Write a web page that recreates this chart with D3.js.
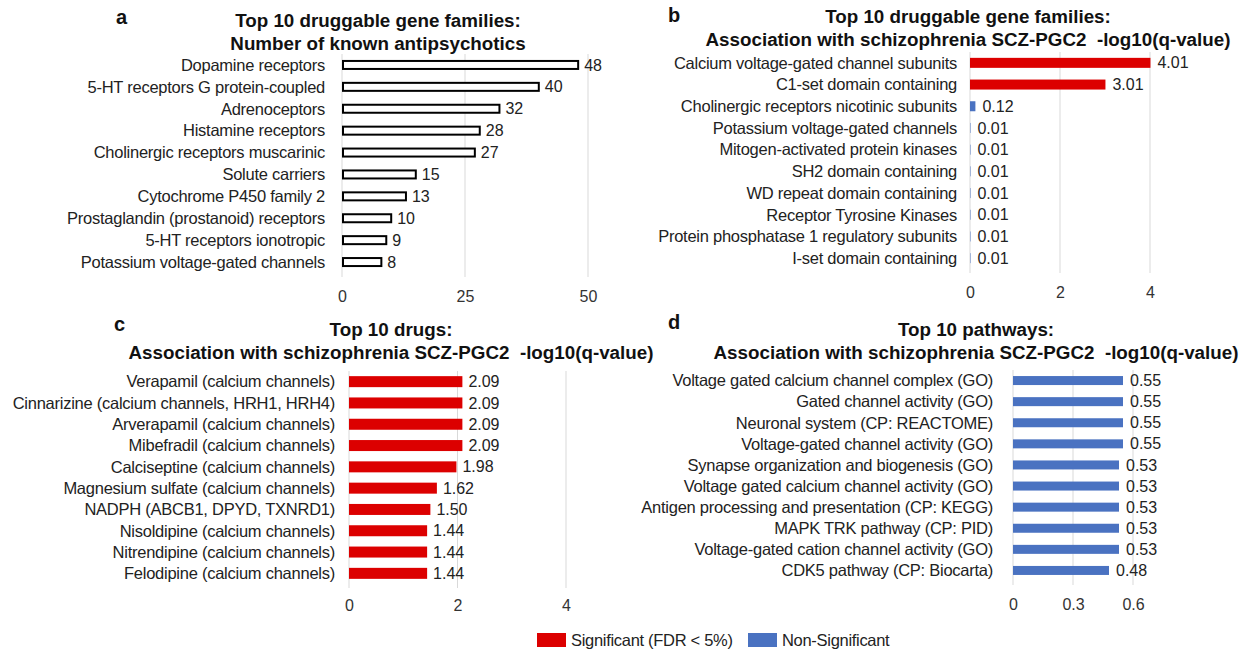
<!DOCTYPE html>
<html>
<head>
<meta charset="utf-8">
<script src="https://cdn.jsdelivr.net/npm/d3@7"></script>
<style>
  html, body { margin: 0; padding: 0; background: #fff; }
  svg { display: block; font-family: "Liberation Sans", Arial, sans-serif; }
  .title { white-space: pre; }
</style>
</head>
<body>
<svg id="chart"></svg>
<script>
const WIDTH = 1256;
const HEIGHT = 652;
const RED = "#dc0000";
const BLUE = "#4a72c1";

// panel a: number of known antipsychotics per gene family
const familyNames = [
  "Dopamine receptors", "5-HT receptors G protein-coupled", "Adrenoceptors",
  "Histamine receptors", "Cholinergic receptors muscarinic", "Solute carriers",
  "Cytochrome P450 family 2", "Prostaglandin (prostanoid) receptors",
  "5-HT receptors ionotropic", "Potassium voltage-gated channels"
];
const familyCounts = [48, 40, 32, 28, 27, 15, 13, 10, 9, 8];
const familyTicks = [0, 25, 50];

// panel b: gene families, association -log10(q)
const famAssocNames = [
  "Calcium voltage-gated channel subunits", "C1-set domain containing",
  "Cholinergic receptors nicotinic subunits", "Potassium voltage-gated channels",
  "Mitogen-activated protein kinases", "SH2 domain containing",
  "WD repeat domain containing", "Receptor Tyrosine Kinases",
  "Protein phosphatase 1 regulatory subunits", "I-set domain containing"
];
const famAssocValues = [4.01, 3.01, 0.12, 0.01, 0.01, 0.01, 0.01, 0.01, 0.01, 0.01];
const famAssocSignificant = [true, true, false, false, false, false, false, false, false, false];
const famAssocTicks = [0, 2, 4];

// panel c: drugs
const drugNames = [
  "Verapamil (calcium channels)", "Cinnarizine (calcium channels, HRH1, HRH4)",
  "Arverapamil (calcium channels)", "Mibefradil (calcium channels)",
  "Calciseptine (calcium channels)", "Magnesium sulfate (calcium channels)",
  "NADPH (ABCB1, DPYD, TXNRD1)", "Nisoldipine (calcium channels)",
  "Nitrendipine (calcium channels)", "Felodipine (calcium channels)"
];
const drugValues = [2.09, 2.09, 2.09, 2.09, 1.98, 1.62, 1.50, 1.44, 1.44, 1.44];
const drugSignificant = [true, true, true, true, true, true, true, true, true, true];
const drugTicks = [0, 2, 4];

// panel d: pathways
const pathwayNames = [
  "Voltage gated calcium channel complex (GO)", "Gated channel activity (GO)",
  "Neuronal system (CP: REACTOME)", "Voltage-gated channel activity (GO)",
  "Synapse organization and biogenesis (GO)", "Voltage gated calcium channel activity (GO)",
  "Antigen processing and presentation (CP: KEGG)", "MAPK TRK pathway (CP: PID)",
  "Voltage-gated cation channel activity (GO)", "CDK5 pathway (CP: Biocarta)"
];
const pathwayValues = [0.55, 0.55, 0.55, 0.55, 0.53, 0.53, 0.53, 0.53, 0.53, 0.48];
const pathwaySignificant = [false, false, false, false, false, false, false, false, false, false];
const pathwayTicks = [0, 0.3, 0.6];

const legendLabels = ["Significant (FDR < 5%)", "Non-Significant"];

const svg = d3.select("#chart").attr("width", WIDTH).attr("height", HEIGHT);

function drawPanel(opt) {
  const g = svg.append("g");
  const x = d3.scaleLinear().domain(opt.domain).range(opt.xRange);
  const y = d3.scaleBand().domain(opt.names).range(opt.yRange);

  // panel letter
  g.append("text")
    .attr("x", opt.letterPos[0]).attr("y", opt.letterPos[1])
    .attr("font-size", 20).attr("font-weight", "bold").attr("fill", "#111")
    .text(opt.letter);

  // title
  g.selectAll(".title")
    .data(opt.title)
    .enter()
    .append("text")
    .attr("class", "title")
    .attr("x", opt.titleX)
    .attr("y", (d, i) => opt.titleY + i * 23)
    .attr("text-anchor", "middle")
    .attr("font-size", 18.8).attr("font-weight", "bold").attr("fill", "#111")
    .text((d) => d);

  // gridlines
  g.selectAll(".grid")
    .data(opt.ticks)
    .enter()
    .append("line")
    .attr("x1", (d) => x(d)).attr("x2", (d) => x(d))
    .attr("y1", opt.yRange[0]).attr("y2", opt.yRange[1] + 4)
    .attr("stroke", "#d9d9d9").attr("stroke-width", 1);

  // axis tick labels
  const axis = g.append("g")
    .attr("transform", `translate(0,${opt.axisY})`)
    .call(d3.axisBottom(x).tickValues(opt.ticks).tickSize(0).tickPadding(0)
      .tickFormat(opt.tickFormat || d3.format("")));
  axis.select(".domain").remove();
  axis.selectAll("text")
    .attr("font-family", "Liberation Sans, Arial, sans-serif")
    .attr("font-size", 16).attr("fill", "#333").attr("dy", "0.35em");

  const bh = opt.barHeight;
  const rows = g.selectAll(".row")
    .data(opt.names.map((n, i) => ({ name: n, value: opt.values[i], sig: opt.sig ? opt.sig[i] : null })))
    .enter()
    .append("g");

  rows.append("text")
    .attr("x", opt.xRange[0] - opt.labelGap)
    .attr("y", (d) => y(d.name) + y.bandwidth() / 2)
    .attr("dy", "0.35em")
    .attr("text-anchor", "end")
    .attr("font-size", 16.5).attr("fill", "#222")
    .attr("letter-spacing", "-0.25")
    .text((d) => d.name);

  if (opt.outline) {
    rows.append("rect")
      .attr("x", x(0) + 1)
      .attr("y", (d) => y(d.name) + (y.bandwidth() - bh) / 2)
      .attr("width", (d) => x(d.value) - x(0) - 1)
      .attr("height", bh)
      .attr("fill", "#fff").attr("stroke", "#000").attr("stroke-width", 2);
  } else {
    rows.append("rect")
      .attr("x", x(0))
      .attr("y", (d) => y(d.name) + (y.bandwidth() - bh) / 2)
      .attr("width", (d) => Math.max(x(d.value) - x(0), 1))
      .attr("height", bh)
      .attr("fill", (d) => (d.sig ? RED : BLUE))
      .attr("opacity", (d) => (d.value < 0.05 ? 0.45 : 1));
  }

  rows.append("text")
    .attr("x", (d) => x(d.value) + opt.valueGap)
    .attr("y", (d) => y(d.name) + y.bandwidth() / 2)
    .attr("dy", "0.35em")
    .attr("font-size", 16).attr("fill", "#222")
    .text((d) => opt.valueFormat(d.value));
}

drawPanel({
  letter: "a", letterPos: [116, 24],
  title: ["Top 10 druggable gene families:", "Number of known antipsychotics"],
  titleX: 378, titleY: 27,
  names: familyNames, values: familyCounts,
  domain: [0, 50], xRange: [342, 588], yRange: [54, 273],
  ticks: familyTicks, axisY: 296, barHeight: 8, outline: true,
  labelGap: 17, valueGap: 6, valueFormat: d3.format("d")
});

drawPanel({
  letter: "b", letterPos: [668, 22],
  title: ["Top 10 druggable gene families:", "Association with schizophrenia SCZ-PGC2  -log10(q-value)"],
  titleX: 968, titleY: 23,
  names: famAssocNames, values: famAssocValues, sig: famAssocSignificant,
  domain: [0, 4], xRange: [970, 1150], yRange: [52, 269],
  ticks: famAssocTicks, axisY: 292, barHeight: 10,
  labelGap: 13, valueGap: 7, valueFormat: d3.format(".2f")
});

drawPanel({
  letter: "c", letterPos: [114, 331],
  title: ["Top 10 drugs:", "Association with schizophrenia SCZ-PGC2  -log10(q-value)"],
  titleX: 391, titleY: 336,
  names: drugNames, values: drugValues, sig: drugSignificant,
  domain: [0, 4], xRange: [349, 566], yRange: [371, 584],
  ticks: drugTicks, axisY: 605, barHeight: 11,
  labelGap: 14, valueGap: 6, valueFormat: d3.format(".2f")
});

drawPanel({
  letter: "d", letterPos: [668, 329],
  title: ["Top 10 pathways:", "Association with schizophrenia SCZ-PGC2  -log10(q-value)"],
  titleX: 976, titleY: 336,
  names: pathwayNames, values: pathwayValues, sig: pathwaySignificant,
  domain: [0, 0.6], xRange: [1013, 1133], yRange: [370, 581],
  ticks: pathwayTicks, axisY: 604, barHeight: 9,
  labelGap: 20, valueGap: 7, valueFormat: d3.format(".2f"),
  tickFormat: (d) => (d === 0 ? "0" : d3.format(".1f")(d))
});

// legend
const legend = svg.append("g");
const legendX = [537, 748];
const legendColors = [RED, BLUE];
legend.selectAll("rect")
  .data(legendLabels)
  .enter()
  .append("rect")
  .attr("x", (d, i) => legendX[i]).attr("y", 633)
  .attr("width", 29).attr("height", 14)
  .attr("fill", (d, i) => legendColors[i]);
legend.selectAll("text")
  .data(legendLabels)
  .enter()
  .append("text")
  .attr("x", (d, i) => legendX[i] + 34).attr("y", 640)
  .attr("dy", "0.35em")
  .attr("font-size", 16.5).attr("fill", "#222")
  .attr("letter-spacing", "-0.3")
  .text((d) => d);
</script>
</body>
</html>
